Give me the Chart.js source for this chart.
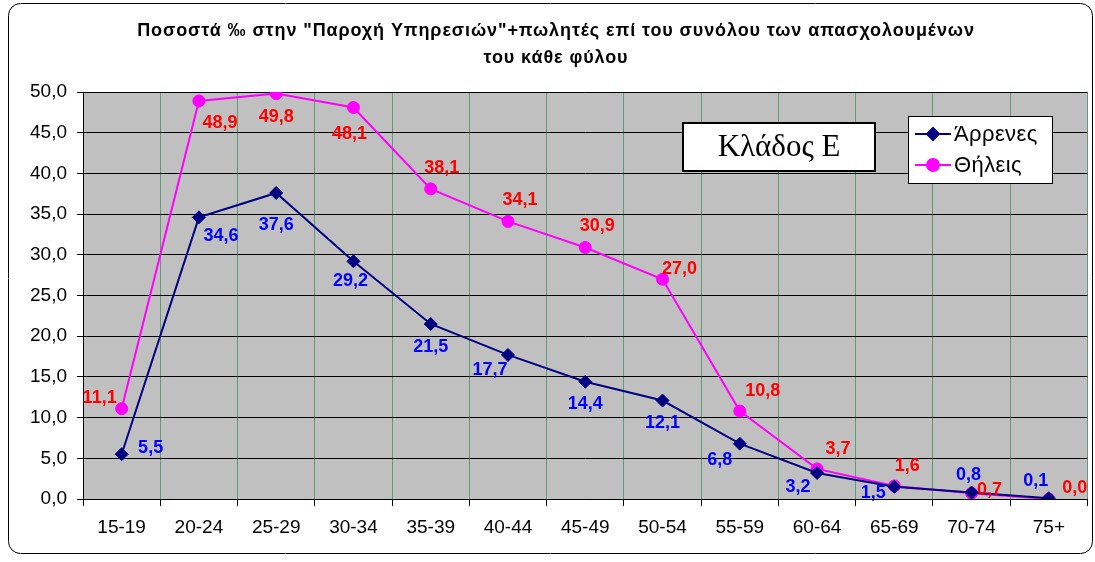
<!DOCTYPE html>
<html>
<head>
<meta charset="utf-8">
<script src="https://cdn.jsdelivr.net/npm/chart.js@4"></script>
<style>
  html, body { margin: 0; padding: 0; background: #fff; }
  #wrap { width: 1095px; height: 562px; }
</style>
</head>
<body>
<div id="wrap"><canvas id="chart" width="1095" height="562"></canvas></div>
<script>
// Data
const ageGroups = ["15-19","20-24","25-29","30-34","35-39","40-44","45-49","50-54","55-59","60-64","65-69","70-74","75+"];
const males   = [5.5, 34.6, 37.6, 29.2, 21.5, 17.7, 14.4, 12.1, 6.8, 3.2, 1.5, 0.8, 0.1];
const females = [11.1, 48.9, 49.8, 48.1, 38.1, 34.1, 30.9, 27.0, 10.8, 3.7, 1.6, 0.7, 0.0];
const yTicks  = [0, 5, 10, 15, 20, 25, 30, 35, 40, 45, 50];

// label offsets (px) relative to each point, like the hand-placed Excel labels
const maleLabelOffsets = [[29,-6],[22,19],[0,32],[-3,20],[0,23],[-18,15],[0,22],[0,23],[-20,16],[-19,14],[-21,6],[-3,-17],[-13,-17]];
const femaleLabelOffsets = [[-22,-11],[21,22],[0,23],[-4,27],[11,-21],[12,-21],[12,-21],[17,-10],[23,-20],[21,-20],[13,-20],[18,-3],[26,-11]];

const FONT = "'Liberation Sans', Arial, sans-serif";
const fmt = v => v.toFixed(1).replace(".", ",");

const frame = {
  id: "frame",
  beforeDraw(chart) {
    const ctx = chart.ctx, a = chart.chartArea;
    ctx.save();
    ctx.fillStyle = "#fff";
    ctx.fillRect(0, 0, chart.width, chart.height);
    // rounded outer border
    ctx.strokeStyle = "#000";
    ctx.lineWidth = 1;
    ctx.beginPath();
    ctx.roundRect(8.5, 3.5, 1084, 550, 12);
    ctx.stroke();
    // plot background
    ctx.fillStyle = "#c0c0c0";
    ctx.fillRect(a.left, a.top, a.right - a.left, a.bottom - a.top);
    // title
    ctx.fillStyle = "#000";
    ctx.font = "bold 18px " + FONT;
    ctx.letterSpacing = "0.9px";
    ctx.textAlign = "center";
    ctx.textBaseline = "middle";
    ctx.fillText("Ποσοστά ‰ στην \"Παροχή Υπηρεσιών\"+πωλητές επί του συνόλου των απασχολουμένων", 556, 31);
    ctx.fillText("του κάθε φύλου", 556, 58);
    ctx.restore();
  },
  afterDatasetsDraw(chart) {
    const ctx = chart.ctx;
    ctx.save();
    ctx.font = "bold 18px " + FONT;
    ctx.textAlign = "center";
    ctx.textBaseline = "middle";
    const sets = [[0, "#0000ff", maleLabelOffsets], [1, "#ff0000", femaleLabelOffsets]];
    sets.forEach(([i, color, offs]) => {
      const meta = chart.getDatasetMeta(i);
      ctx.fillStyle = color;
      meta.data.forEach((pt, j) => {
        const v = chart.data.datasets[i].data[j];
        ctx.fillText(fmt(v), pt.x + offs[j][0], pt.y + offs[j][1]);
      });
    });

    // "Κλάδος Ε" box
    ctx.fillStyle = "#fff";
    ctx.fillRect(683, 123, 192, 48);
    ctx.strokeStyle = "#000";
    ctx.lineWidth = 2;
    ctx.strokeRect(683, 123, 192, 48);
    ctx.fillStyle = "#000";
    ctx.font = "31px 'Liberation Serif', 'Times New Roman', serif";
    ctx.fillText("Κλάδος Ε", 779, 148);

    // legend
    ctx.fillStyle = "#fff";
    ctx.fillRect(908.5, 116.5, 144, 67);
    ctx.lineWidth = 1;
    ctx.strokeRect(908.5, 116.5, 144, 67);
    ctx.font = "22px " + FONT;
    ctx.letterSpacing = "0.4px";
    ctx.textAlign = "left";
    const items = [["Άρρενες", "#000080", "rectRot", 134], ["Θήλεις", "#ff00ff", "circle", 165]];
    items.forEach(([label, color, style, y]) => {
      ctx.strokeStyle = color;
      ctx.lineWidth = 2;
      ctx.beginPath();
      ctx.moveTo(915, y);
      ctx.lineTo(951, y);
      ctx.stroke();
      ctx.fillStyle = color;
      Chart.helpers.drawPoint(ctx, { pointStyle: style, radius: 6, borderWidth: 1 }, 933, y);
      ctx.fillStyle = "#000";
      ctx.fillText(label, 954, y + 1);
    });
    ctx.restore();
  }
};

new Chart(document.getElementById("chart"), {
  type: "line",
  data: {
    labels: ageGroups,
    datasets: [
      {
        label: "Άρρενες",
        data: males,
        borderColor: "#000080",
        backgroundColor: "#000080",
        borderWidth: 2,
        pointStyle: "rectRot",
        pointRadius: 6.5,
        pointBorderWidth: 1,
        tension: 0
      },
      {
        label: "Θήλεις",
        data: females,
        borderColor: "#ff00ff",
        backgroundColor: "#ff00ff",
        borderWidth: 2,
        pointStyle: "circle",
        pointRadius: 6,
        pointBorderWidth: 1,
        tension: 0
      }
    ]
  },
  options: {
    responsive: false,
    animation: false,
    layout: { padding: { top: 92, right: 7, left: 0, bottom: 0 } },
    plugins: { legend: { display: false }, tooltip: { enabled: false }, title: { display: false } },
    scales: {
      x: {
        offset: true,
        grid: { offset: true, color: "#5f9b76", lineWidth: 1, tickLength: 7, tickColor: "#000" },
        border: { color: "#000", width: 1 },
        ticks: { color: "#000", font: { family: FONT, size: 19 }, padding: 10, maxRotation: 0 },
        afterFit(s) { s.height = 63; }
      },
      y: {
        min: 0,
        max: 50,
        afterBuildTicks(s) { s.ticks = yTicks.map(v => ({ value: v })); },
        grid: { color: "#000", lineWidth: 1, tickLength: 6 },
        border: { color: "#000", width: 1 },
        ticks: {
          color: "#000",
          font: { family: FONT, size: 19 },
          padding: 10,
          callback: v => fmt(v)
        },
        afterFit(s) { s.width = 83; }
      }
    }
  },
  plugins: [frame]
});
</script>
</body>
</html>
